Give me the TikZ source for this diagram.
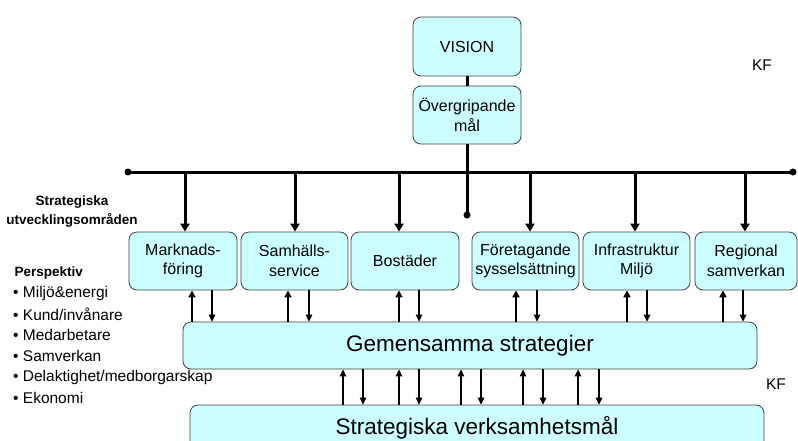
\documentclass[tikz,border=0pt]{standalone}
\usepackage{fontspec}
\setmainfont{Liberation Sans}
\usetikzlibrary{arrows.meta}
\definecolor{boxfill}{HTML}{CCFFFF}
\tikzset{
  box/.style={draw=black!75, line width=0.8pt, fill=boxfill, rounded corners=8pt,
    align=center, inner sep=0pt, font=\fontsize{16}{19.5}\selectfont},
  bigbox/.style={box, minimum width=574pt, font=\fontsize{22.5}{27}\selectfont},
  bararrow/.style={line width=3pt, -{Triangle[width=9pt,length=8pt]}},
  uparrow/.style={line width=2.2pt, -{Triangle[width=7pt,length=7pt]}},
  downarrow/.style={line width=1.3pt, -{Triangle[width=6.5pt,length=7pt]}},
  headtext/.style={font=\bfseries\fontsize{13.5}{19}\selectfont},
  plaintext/.style={font=\fontsize{15.5}{19}\selectfont}
}

\begin{document}
\begin{tikzpicture}[x=1pt, y=-1pt]
      \useasboundingbox (0,0) rectangle (798,440);
      \clip (0,0) rectangle (798,440);

      {\tikzstyle{every node}=[box, minimum height=58pt]
        \node [minimum width=108pt, minimum height=59pt] (vision) at (467,46.5) {VISION};
        \node [minimum width=108pt] (goal) at (467,115) {Övergripande\\mål};

        \foreach \n/\x/\w/\t in {mark/183/108/{Marknads-\\föring},
            samh/294.5/107/{Samhälls-\\service}, bost/405/108/{Bostäder},
            fore/525.5/107/{Företagande\\sysselsättning},
            infra/636.5/107/{Infrastruktur\\Miljö}, reg/746/102/{Regional\\samverkan}}
        {
          \node [minimum width=\w pt] (\n) at (\x,261) {\t};
        }
      }

      \node [bigbox, minimum height=47pt] (gem) at (470,345.5) {Gemensamma strategier};
      \node [bigbox, minimum height=46pt] (verk) at (477,428) {Strategiska verksamhetsmål};

      \coordinate (barL) at (128,172);
      \coordinate (barR) at (793,172);
      \coordinate (hub) at (467,215);

      \draw [line width=3pt]
        (vision) -- (goal)
        (goal) -- (hub)
        (barL) -- (barR);
      \fill
        (barL) circle (3.5pt)
        (barR) circle (3.5pt)
        (hub) circle (3.5pt);

      \foreach \n/\a in {mark/185, samh/295, bost/399, fore/530, infra/635, reg/745}
      {
        \draw [bararrow] (\a,0 |- barL) -- (\a,0 |- \n.north);
      }

      \foreach \n/\u/\d in {mark/192/212, samh/288/309, bost/399/419,
          fore/516/537, infra/627/647, reg/723/743}
      {
        \draw [uparrow] (\u,0 |- gem.north) -- (\u,0 |- \n.south);
        \draw [downarrow] (\d,0 |- \n.south) -- (\d,0 |- gem.north);
      }

      \foreach \u/\d in {343/363, 399/419, 461/481, 523/543, 578/599}
      {
        \draw [downarrow] (\u,0 |- verk.north) -- (\u,0 |- gem.south);
        \draw [downarrow] (\d,0 |- gem.south) -- (\d,0 |- verk.north);
      }

      \node [headtext, align=center] (areas) at (72,212) {Strategiska\\utvecklingsområden};
      \node [headtext, anchor=west] (persp) at (11,273) {Perspektiv};
      \foreach \t [count=\i] in {Miljö\&energi, Kund/invånare, Medarbetare,
          Samverkan, Delaktighet/medborgarskap, Ekonomi}
      {
        \node [plaintext, anchor=west, inner sep=0pt] (p\i) at (13,272+\i*21) {\textbullet\ \t};
      }

      \node [plaintext] (kf1) at (762,65.5) {KF};
      \node [plaintext] (kf2) at (776,384) {KF};
    \end{tikzpicture}
\end{document}
